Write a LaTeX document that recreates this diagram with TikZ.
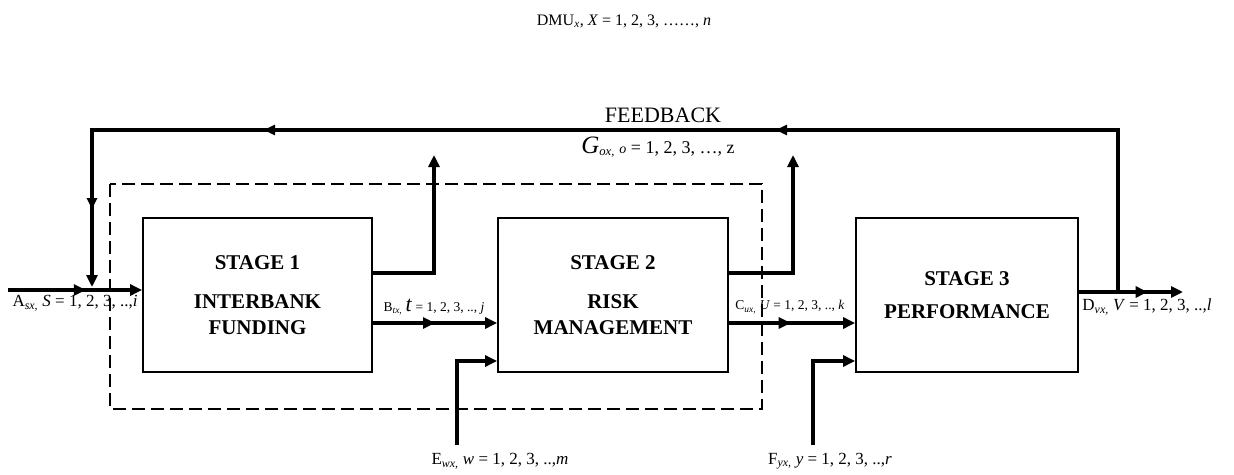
\documentclass[tikz,border=0pt]{standalone}
\usepackage{fontspec}
\setmainfont{Liberation Serif}
\usepackage{tikz}
\usetikzlibrary{arrows.meta,decorations.markings}

\begin{document}
\begin{tikzpicture}[x=1pt,y=-1pt,
	stagebox/.style={draw,line width=1.8pt,minimum width=#1,minimum height=154pt,align=center,font=\fontsize{21}{26}\selectfont\bfseries,inner sep=0pt},
	flow/.style={line width=3.4pt,-{Triangle[length=12pt,width=11pt]}},
	midarrow/.style={postaction={decorate},decoration={markings,mark=at position #1 with {\arrow{Triangle[length=12pt,width=11pt]}}}},
	dashbox/.style={line width=1.8pt,dash pattern=on 13pt off 6pt},
	lbl/.style={inner sep=0pt,font=\fontsize{17}{17}\selectfont}]
	\useasboundingbox (0,0) rectangle (1234,474);
	
	\node[inner sep=0pt,font=\fontsize{16}{16}\selectfont] (title) at (624,21) {DMU\textsubscript{\textit{x}}, \textit{X} = 1, 2, 3, ……, \textit{n}};
	
	\draw[dashbox] (110,184) rectangle (762,409);
	
	\node[stagebox=229pt] (b1) at (257.5,295) {STAGE 1\\[13pt]INTERBANK\\FUNDING};
	\node[stagebox=230pt] (b2) at (613,295) {STAGE 2\\[13pt]RISK\\MANAGEMENT};
	\node[stagebox=222pt] (b3) at (967,295) {STAGE 3\\[7pt]PERFORMANCE};
	
	\coordinate (ain) at (8,290);
	\coordinate (g1) at (434,155);
	\coordinate (g2) at (793,155);
	\coordinate (ein) at (457,445);
	\coordinate (fin) at (813,445);
	\coordinate (dout) at (1183,292);
	\coordinate (fbr) at (1118,292);
	\coordinate (fbtr) at (1118,130);
	\coordinate (fbtl) at (92,130);
	\coordinate (fbin) at (92,287);
	
	\draw[flow,midarrow=0.58] (ain) -- (ain -| b1.west);
	\draw[flow] ([yshift=22pt]b1.east) -| (g1);
	\draw[flow] ([yshift=22pt]b2.east) -| (g2);
	\draw[flow,midarrow=0.5] ([yshift=-28pt]b1.east) -- ([yshift=-28pt]b2.west);
	\draw[flow,midarrow=0.49] ([yshift=-28pt]b2.east) -- ([yshift=-28pt]b3.west);
	\draw[flow] (ein) |- ([yshift=-66pt]b2.west);
	\draw[flow] (fin) |- ([yshift=-66pt]b3.west);
	\draw[flow,midarrow=0.66] ([yshift=3pt]b3.east) -- (dout);
	\draw[flow,postaction={decorate},decoration={markings,
		mark=at position 504pt with {\arrow{Triangle[length=11pt,width=10pt]}},
		mark=at position 1016pt with {\arrow{Triangle[length=11pt,width=10pt]}},
		mark=at position 1267pt with {\arrow{Triangle[length=11pt,width=10pt]}}}]
		(fbr) -- (fbtr) -- (fbtl) -- (fbin);
	
	\node[inner sep=0pt,font=\fontsize{22}{22}\selectfont] (fbtext) at (663,115) {FEEDBACK};
	\node[inner sep=0pt,font=\fontsize{18}{18}\selectfont] (glbl) at (658,147) {{\fontsize{25}{25}\selectfont\textit{G}}\textsubscript{\textit{ox,}} {\fontsize{14}{14}\selectfont\textit{o}} = 1, 2, 3, …, z};
	\node[lbl] (albl) at (75,303) {A\textsubscript{\textit{sx,}} \textit{S} = 1, 2, 3, ..,\textit{i}};
	\node[lbl,font=\fontsize{13.5}{13.5}\selectfont] (blbl) at (434,307) {B\textsubscript{\textit{tx,}} {\fontsize{22}{22}\selectfont\textit{t}} = 1, 2, 3, .., \textit{j}};
	\node[lbl,font=\fontsize{13.5}{13.5}\selectfont] (clbl) at (790,307) {C\textsubscript{\textit{ux,}} \textit{U} = 1, 2, 3, .., \textit{k}};
	\node[lbl] (dlbl) at (1147,307) {D\textsubscript{\textit{vx,}} \textit{V} = 1, 2, 3, ..,\textit{l}};
	\node[lbl] (elbl) at (500,461) {E\textsubscript{\textit{wx,}} \textit{w} = 1, 2, 3, ..,\textit{m}};
	\node[lbl] (flbl) at (830,461) {F\textsubscript{\textit{yx,}} \textit{y} = 1, 2, 3, ..,\textit{r}};
\end{tikzpicture}
\end{document}
